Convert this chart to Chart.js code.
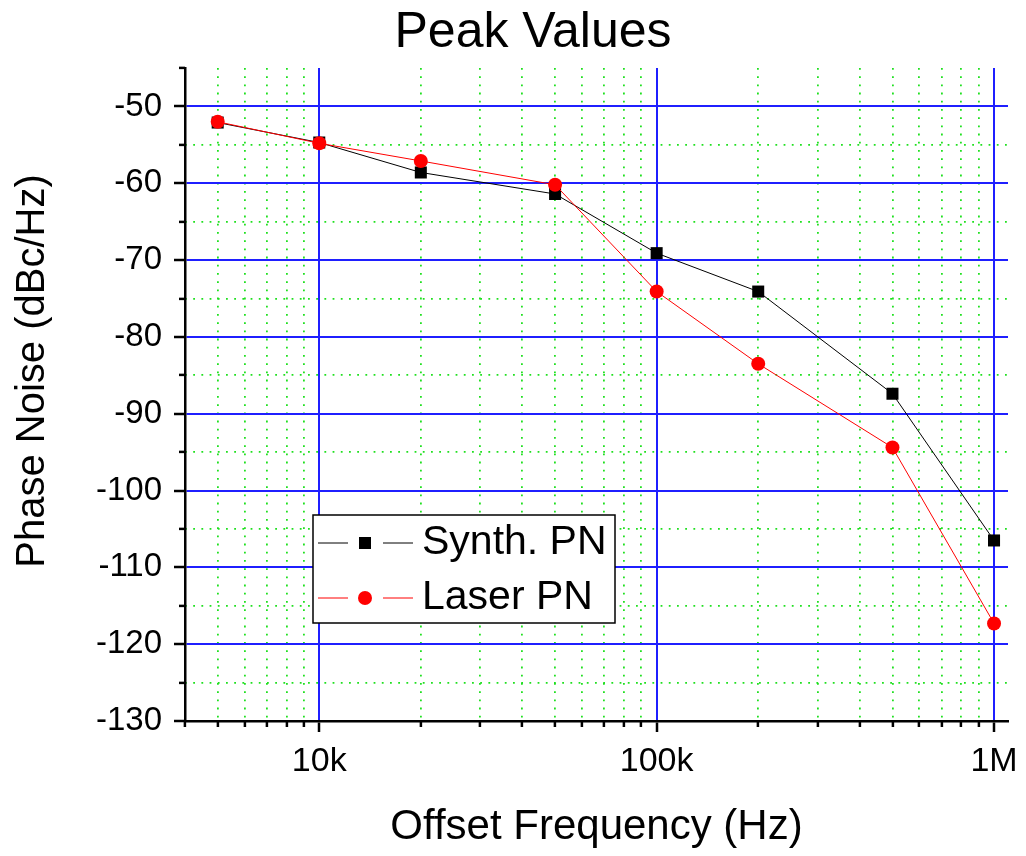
<!DOCTYPE html>
<html lang="en">
<head>
<meta charset="UTF-8">
<title>Peak Values</title>
<style>
  html, body { margin: 0; padding: 0; background: #fff; }
</style>
</head>
<body>
<canvas id="chart" width="1026" height="856"></canvas>
<script src="https://cdn.jsdelivr.net/npm/chart.js@4.4.1/dist/chart.umd.min.js"></script>
<script>
// offset frequencies (Hz) and peak phase noise (dBc/Hz)
const freqs = [5e3, 1e4, 2e4, 5e4, 1e5, 2e5, 5e5, 1e6];
const synthPN = [-52.1, -54.7, -58.6, -61.4, -69.1, -74.1, -87.4, -106.5];
const laserPN = [-52.0, -54.8, -57.1, -60.2, -74.1, -83.5, -94.4, -117.3];

// axis ticks
const xMajor = [1e4, 1e5, 1e6];
const xMinor = [4e3, 5e3, 6e3, 7e3, 8e3, 9e3,
                2e4, 3e4, 4e4, 5e4, 6e4, 7e4, 8e4, 9e4,
                2e5, 3e5, 4e5, 5e5, 6e5, 7e5, 8e5, 9e5];
const xLabels = {10000: '10k', 100000: '100k', 1000000: '1M'};
const yMajor = [-130, -120, -110, -100, -90, -80, -70, -60, -50];
const yMinor = [-125, -115, -105, -95, -85, -75, -65, -55, -45];
const yTitle = 'Phase Noise (dBc/Hz)';

const FONT = "'Liberation Sans', Arial, sans-serif";
const BLUE = '#1f1fff';
const GREEN = '#1fe01f';
Chart.defaults.font.family = FONT;
Chart.defaults.color = '#000';

const toTicks = arr => arr.map(v => ({value: v}));

// y axis title, placed a bit above the middle of the axis like the original
const yTitlePlugin = {
  id: 'yTitlePlugin',
  afterDraw(chart) {
    const ctx = chart.ctx;
    ctx.save();
    ctx.translate(33, 371);
    ctx.rotate(-Math.PI / 2);
    ctx.font = '40px ' + FONT;
    ctx.fillStyle = '#000';
    ctx.textAlign = 'center';
    ctx.textBaseline = 'middle';
    ctx.fillText(yTitle, 0, 0);
    ctx.restore();
  }
};

// Origin-style legend box: line - marker - line, then label
const legendBox = {
  id: 'legendBox',
  afterDraw(chart) {
    const ctx = chart.ctx;
    const x0 = 313, y0 = 515, w = 302, h = 108;
    ctx.save();
    ctx.fillStyle = '#fff';
    ctx.fillRect(x0, y0, w, h);
    ctx.strokeStyle = '#000';
    ctx.lineWidth = 1.5;
    ctx.strokeRect(x0, y0, w, h);
    ctx.font = '41px ' + FONT;
    ctx.textBaseline = 'middle';
    chart.data.datasets.forEach((ds, i) => {
      const cy = y0 + 28 + i * 55;
      ctx.strokeStyle = ds.borderColor;
      ctx.lineWidth = 1;
      ctx.beginPath();
      ctx.moveTo(x0 + 5, cy); ctx.lineTo(x0 + 35, cy);
      ctx.moveTo(x0 + 70, cy); ctx.lineTo(x0 + 100, cy);
      ctx.stroke();
      ctx.fillStyle = ds.pointBackgroundColor;
      Chart.helpers.drawPoint(ctx, {pointStyle: ds.pointStyle, radius: ds.pointRadius, borderWidth: 0, rotation: 0}, x0 + 52, cy);
      ctx.fillStyle = '#000';
      ctx.fillText(ds.label, x0 + 109, cy);
    });
    ctx.restore();
  }
};

const ctx = document.getElementById('chart').getContext('2d');
new Chart(ctx, {
  type: 'line',
  data: {
    datasets: [
      {
        label: 'Synth. PN',
        data: freqs.map((f, i) => ({x: f, y: synthPN[i]})),
        borderColor: '#000',
        borderWidth: 1,
        pointStyle: 'rect',
        pointRadius: 8.5,
        pointBorderWidth: 0,
        pointBackgroundColor: '#000',
        order: 2
      },
      {
        label: 'Laser PN',
        data: freqs.map((f, i) => ({x: f, y: laserPN[i]})),
        borderColor: '#ff0000',
        borderWidth: 1,
        pointStyle: 'circle',
        pointRadius: 7,
        pointBorderWidth: 0,
        pointBackgroundColor: '#ff0000',
        order: 1
      }
    ]
  },
  options: {
    responsive: false,
    devicePixelRatio: 1,
    animation: false,
    layout: { padding: {left: 58, right: 18, top: 0, bottom: 0} },
    elements: { line: { tension: 0 } },
    plugins: {
      legend: { display: false },
      tooltip: { enabled: false },
      title: {
        display: true,
        text: 'Peak Values',
        color: '#000',
        font: {size: 50, weight: 'normal'},
        padding: {top: 3, bottom: 5}
      }
    },
    scales: {
      x: {
        type: 'logarithmic',
        position: 'bottom',
        min: 4000, max: 1.1e6, bounds: 'data',
        afterBuildTicks: s => { s.ticks = toTicks(xMajor); },
        afterFit: s => { s.height = 135; s.paddingLeft = 0; s.paddingRight = 0; },
        ticks: { autoSkip: false, maxRotation: 0, padding: 9, font: {size: 34}, callback: v => xLabels[v] || '' },
        grid: { color: BLUE, lineWidth: 2, tickLength: 11, tickColor: '#000', tickWidth: 2.5 },
        border: { color: '#000', width: 2.5 },
        title: { display: true, text: 'Offset Frequency (Hz)', font: {size: 42}, padding: {top: 0, bottom: 3} }
      },
      xMinor: {
        type: 'logarithmic',
        position: 'bottom',
        weight: -1,
        min: 4000, max: 1.1e6, bounds: 'data',
        afterBuildTicks: s => { s.ticks = toTicks(xMinor); },
        afterFit: s => { s.height = 0; s.paddingLeft = 0; s.paddingRight = 0; },
        ticks: { display: false, autoSkip: false },
        grid: {
          color: c => (c.tick && c.tick.value === 4000) ? 'rgba(0,0,0,0)' : GREEN,
          lineWidth: 1.8, tickLength: 6, tickColor: '#000', tickWidth: 2.5
        },
        border: { display: false, dash: [1.8, 6.4] }
      },
      y: {
        type: 'linear',
        position: 'left',
        min: -130, max: -45,
        afterBuildTicks: s => { s.ticks = toTicks(yMajor); },
        afterFit: s => { s.width = 127; s.paddingTop = 0; s.paddingBottom = 0; },
        ticks: { padding: 12, font: {size: 33} },
        grid: { color: BLUE, lineWidth: 2, tickLength: 11, tickColor: '#000', tickWidth: 2.5 },
        border: { color: '#000', width: 2.5 },
        title: { display: false }
      },
      yMinor: {
        type: 'linear',
        position: 'left',
        weight: -1,
        min: -130, max: -45,
        afterBuildTicks: s => { s.ticks = toTicks(yMinor); },
        afterFit: s => { s.width = 0; s.paddingTop = 0; s.paddingBottom = 0; },
        ticks: { display: false },
        grid: {
          color: c => (c.tick && c.tick.value === -45) ? 'rgba(0,0,0,0)' : GREEN,
          lineWidth: 1.8, tickLength: 6, tickColor: '#000', tickWidth: 2.5
        },
        border: { display: false, dash: [1.8, 6.4] }
      }
    }
  },
  plugins: [yTitlePlugin, legendBox]
});
</script>
</body>
</html>
